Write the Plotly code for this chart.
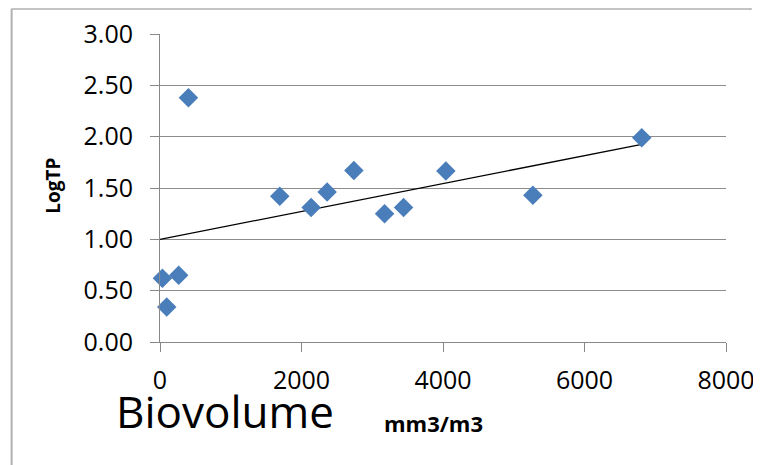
import plotly.graph_objects as go

# Data
biovolume = [34, 95, 264, 402, 1693, 2136, 2362, 2740, 3174, 3443, 4041, 5270, 6809]
log_tp = [0.62, 0.34, 0.65, 2.38, 1.42, 1.31, 1.46, 1.67, 1.25, 1.31, 1.665, 1.43, 1.99]
trend_x = [0, 6809]
trend_y = [1.00, 1.925]
y_ticks = [0, 0.5, 1.0, 1.5, 2.0, 2.5, 3.0]
x_ticks = [0, 2000, 4000, 6000, 8000]

# The page body has an 8px default margin; compensate so page pixels match.
OFF = 8
W, H = 761, 465
L, R, T, B = 160.3 - OFF, 35 + OFF, 33.7 - OFF, 122.7 + OFF
pw, ph = W - L - R, H - T - B

def px(x):  # page pixel -> paper x
    return (x - OFF - L) / pw

def py(y):  # page pixel -> paper y
    return (H - B - (y - OFF)) / ph

fig = go.Figure()
fig.add_trace(go.Scatter(x=trend_x, y=trend_y, mode="lines",
                         line=dict(color="black", width=1.3), showlegend=False,
                         cliponaxis=False))
fig.add_trace(go.Scatter(x=biovolume, y=log_tp, mode="markers",
                         marker=dict(symbol="diamond", size=15, color="#4A7EBB",
                                     line=dict(width=0)),
                         showlegend=False, cliponaxis=False))

font = "Open Sans, Noto Sans, DejaVu Sans, sans-serif"

fig.update_layout(
    width=W, height=H,
    margin=dict(l=L, r=R, t=T, b=B, pad=0, autoexpand=False),
    paper_bgcolor="white", plot_bgcolor="white",
    font=dict(family=font, color="black"),
    xaxis=dict(range=[0, 8000], tickvals=x_ticks, ticktext=[str(v) for v in x_ticks],
               showgrid=False, zeroline=False, showline=True, linecolor="#888888",
               linewidth=1, ticks="outside", ticklen=9, tickcolor="#888888",
               tickfont=dict(size=25, family=font), ticklabelstandoff=7,
               automargin=False),
    yaxis=dict(range=[0, 3.0], tickvals=y_ticks, ticktext=[f"{v:.2f}" for v in y_ticks],
               showgrid=True, gridcolor="#8c8c8c", gridwidth=1, zeroline=False,
               showline=True, linecolor="#888888", linewidth=1,
               ticks="outside", ticklen=9, tickcolor="#888888",
               tickfont=dict(size=25, family=font), ticklabelstandoff=12,
               automargin=False),
)

# Frame
frame_col = "#b0b0b0"
fig.add_shape(type="line", xref="paper", yref="paper", x0=px(12), x1=px(12), y0=py(8.5), y1=py(473),
              line=dict(color=frame_col, width=2))
fig.add_shape(type="line", xref="paper", yref="paper", x0=px(12), x1=px(751), y0=py(8.7), y1=py(8.7),
              line=dict(color=frame_col, width=1.5))
fig.add_shape(type="line", xref="paper", yref="paper", x0=px(751), x1=px(751), y0=py(8), y1=py(9.4),
              line=dict(color=frame_col, width=1.5))

# Texts
fig.add_annotation(xref="paper", yref="paper", x=px(53), y=py(186), text="<b>LogTP</b>",
                   textangle=-90, showarrow=False, font=dict(size=19, family=font),
                   xanchor="center", yanchor="middle")
fig.add_annotation(xref="paper", yref="paper", x=px(114), y=py(411), text="Biovolume",
                   showarrow=False, font=dict(size=44, family=font),
                   xanchor="left", yanchor="middle")
fig.add_annotation(xref="paper", yref="paper", x=px(434), y=py(423), text="<b>mm3/m3</b>",
                   showarrow=False, font=dict(size=22, family=font),
                   xanchor="center", yanchor="middle")

fig.write_html("out.html")
